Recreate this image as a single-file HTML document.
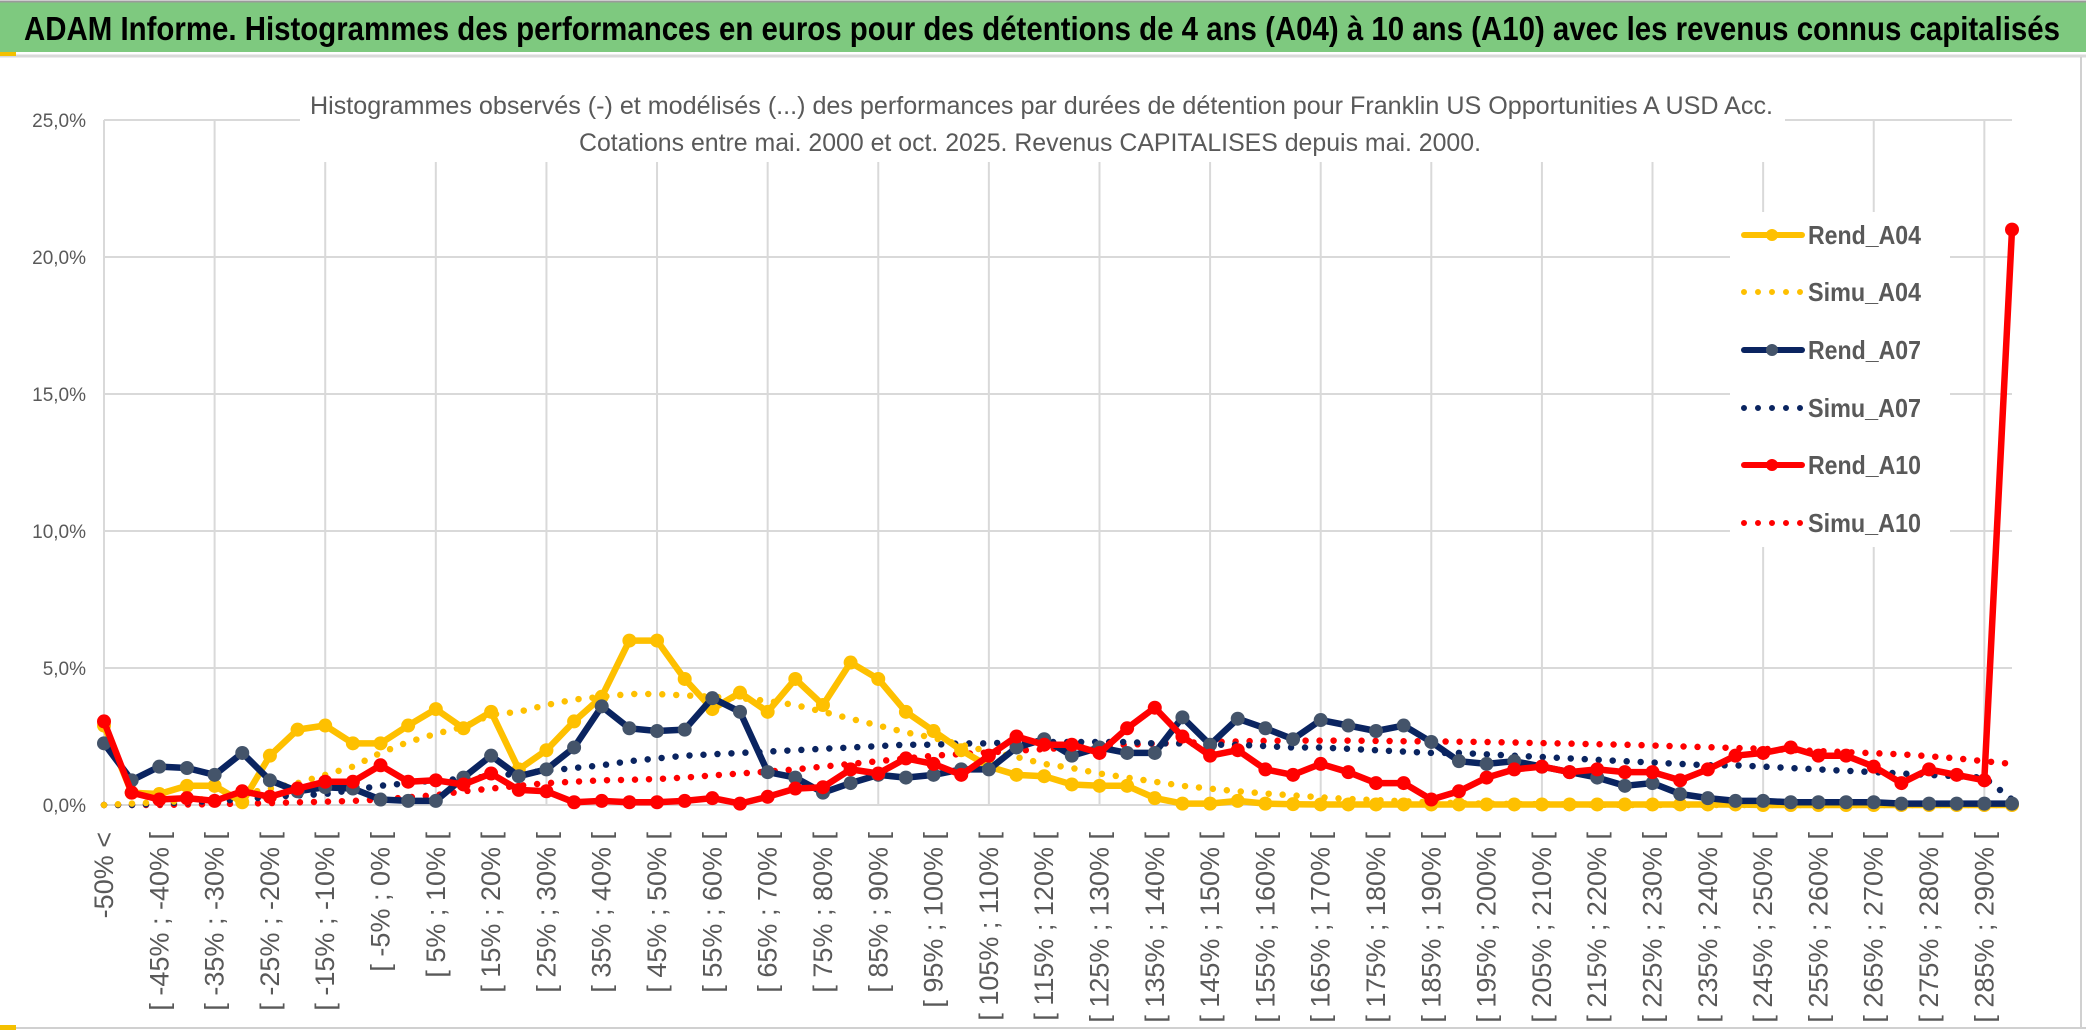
<!DOCTYPE html>
<html><head><meta charset="utf-8"><style>
html,body{margin:0;padding:0;background:#fff;}
svg{display:block;font-family:"Liberation Sans",sans-serif;}
</style></head><body>
<svg id="chart" width="2086" height="1033" viewBox="0 0 2086 1033" xmlns="http://www.w3.org/2000/svg">
<rect x="0" y="0" width="2086" height="1033" fill="#fff"/>
<rect x="0" y="2" width="2086" height="50" fill="#7EC97F"/>
<line x1="0" y1="1.5" x2="2086" y2="1.5" stroke="#9a9a9a" stroke-width="2"/>
<line x1="0" y1="56" x2="2086" y2="56" stroke="#d9d9d9" stroke-width="3"/>
<rect x="0" y="52" width="16" height="4" fill="#f4c000"/>
<text x="24" y="40" font-size="33" font-weight="bold" fill="#000" textLength="2036" lengthAdjust="spacingAndGlyphs">ADAM Informe. Histogrammes des performances en euros pour des détentions de 4 ans (A04) à 10 ans (A10) avec les revenus connus capitalisés</text>
<line x1="2081" y1="57" x2="2081" y2="1027" stroke="#d0d0d0" stroke-width="2"/>
<line x1="0" y1="1028" x2="2086" y2="1028" stroke="#d0d0d0" stroke-width="2"/>
<rect x="0" y="1025" width="16" height="5" fill="#f4c000"/>
<g id="grid"></g>
<rect x="300" y="80" width="1485" height="82" fill="#fff"/>
<text x="310" y="114" font-size="25" fill="#595959" textLength="1463" lengthAdjust="spacingAndGlyphs">Histogrammes observés (-) et modélisés (...) des performances par durées de détention pour Franklin US Opportunities A USD Acc.</text>
<text x="579" y="151" font-size="25" fill="#595959" textLength="902" lengthAdjust="spacingAndGlyphs">Cotations entre mai. 2000 et oct. 2025. Revenus CAPITALISES depuis mai. 2000.</text>
<g id="yaxis"></g>
<g id="xaxis"></g>
<g id="series"></g>
<g id="legend"></g>
</svg>
<script>
const categoryCount = 70;
const yTicks = [0, 5, 10, 15, 20, 25];
const yTickLabels = ["0,0%", "5,0%", "10,0%", "15,0%", "20,0%", "25,0%"];
const categories = (function(){const a=["-50% <"];for(let k=1;k<70;k++){const lo=-50+5*(k-1);a.push("[ "+lo+"% ; "+(lo+5)+"% [");}return a;})();
const rendA04 = [2.9,0.45,0.4,0.7,0.7,0.1,1.8,2.75,2.9,2.25,2.25,2.9,3.5,2.8,3.4,1.3,2.0,3.05,3.95,6.0,6.0,4.6,3.5,4.1,3.4,4.6,3.65,5.2,4.6,3.4,2.7,2.0,1.4,1.1,1.05,0.75,0.7,0.7,0.25,0.05,0.05,0.15,0.05,0.03,0.02,0.02,0.02,0.02,0.02,0.02,0.02,0.02,0.02,0.02,0.02,0.02,0.02,0.02,0.02,0.02,0.0,0.0,0.0,0.0,0.0,0.0,0.0,0.0,0.0,0.0];
const simuA04 = [0,0.05,0.1,0.15,0.25,0.4,0.6,0.8,1.1,1.4,1.9,2.3,2.6,2.85,3.3,3.4,3.65,3.85,3.95,4.05,4.05,4.0,3.95,3.9,3.8,3.65,3.4,3.15,2.9,2.65,2.45,2.2,1.95,1.75,1.5,1.35,1.15,1.0,0.85,0.7,0.6,0.5,0.42,0.35,0.28,0.22,0.18,0.14,0.1,0.07,0.05,0.04,0.03,0.02,0.01,0,0,0,0,0,0,0,0,0,0,0,0,0,0,0];
const rendA07 = [2.25,0.9,1.4,1.35,1.1,1.9,0.9,0.5,0.65,0.6,0.2,0.15,0.15,1.0,1.8,1.05,1.3,2.1,3.6,2.8,2.7,2.75,3.9,3.4,1.2,1.0,0.45,0.8,1.1,1.0,1.1,1.3,1.3,2.1,2.4,1.8,2.1,1.9,1.9,3.2,2.2,3.15,2.8,2.4,3.1,2.9,2.7,2.9,2.3,1.6,1.5,1.6,1.4,1.2,1.0,0.7,0.8,0.4,0.25,0.15,0.15,0.1,0.1,0.1,0.1,0.05,0.05,0.05,0.05,0.05];
const simuA07 = [0,0,0.05,0.1,0.15,0.2,0.3,0.35,0.4,0.55,0.7,0.8,0.9,0.95,1.05,1.15,1.25,1.35,1.45,1.6,1.7,1.8,1.85,1.9,1.95,2.0,2.05,2.1,2.15,2.2,2.2,2.25,2.25,2.3,2.3,2.3,2.3,2.3,2.25,2.25,2.2,2.2,2.15,2.1,2.1,2.05,2.0,1.95,1.9,1.9,1.85,1.8,1.75,1.7,1.65,1.6,1.55,1.5,1.45,1.45,1.4,1.35,1.3,1.25,1.2,1.15,1.1,1.05,1.0,0.2];
const rendA10 = [3.05,0.45,0.2,0.25,0.15,0.5,0.3,0.6,0.85,0.85,1.45,0.85,0.9,0.75,1.15,0.55,0.5,0.1,0.15,0.1,0.1,0.15,0.25,0.05,0.3,0.6,0.65,1.3,1.15,1.7,1.5,1.1,1.8,2.5,2.2,2.2,1.9,2.8,3.55,2.5,1.8,2.0,1.3,1.1,1.5,1.2,0.8,0.8,0.2,0.5,1.0,1.3,1.4,1.2,1.3,1.2,1.2,0.9,1.3,1.8,1.9,2.1,1.8,1.8,1.4,0.8,1.3,1.1,0.9,21.0];
const simuA10 = [0,0,0,0.02,0.03,0.05,0.07,0.1,0.12,0.15,0.2,0.28,0.36,0.5,0.6,0.7,0.8,0.85,0.9,0.92,0.95,1.0,1.08,1.15,1.22,1.3,1.4,1.5,1.6,1.7,1.8,1.86,1.92,1.98,2.04,2.1,2.15,2.2,2.24,2.27,2.3,2.32,2.34,2.35,2.35,2.35,2.34,2.33,2.32,2.31,2.3,2.28,2.26,2.24,2.22,2.2,2.17,2.14,2.11,2.08,2.05,2.01,1.97,1.93,1.89,1.85,1.78,1.7,1.6,1.5];

const X0=104, X1=2012, Y0=805, Y25=120;
const xs=i=>X0+(X1-X0)*i/(categoryCount-1);
const ys=v=>Y0-(Y0-Y25)*v/25;
const NS="http://www.w3.org/2000/svg";
function mk(tag,attrs,parent){const e=document.createElementNS(NS,tag);for(const k in attrs)e.setAttribute(k,attrs[k]);parent.appendChild(e);return e;}
const grid=document.getElementById('grid');
for(const t of yTicks){
  const l=mk('line',{x1:X0,x2:X1,y1:ys(t),y2:ys(t),stroke:'#d9d9d9','stroke-width':2},grid);
  
  
}
for(let i=0;i<categoryCount;i+=4){
  const l=mk('line',{x1:xs(i),x2:xs(i),y1:Y25,y2:Y0,stroke:'#d9d9d9','stroke-width':2},grid);
  
  
}
const yax=document.getElementById('yaxis');
yTicks.forEach((t,k)=>{
  const e=mk('text',{x:86,y:ys(t)+7,'text-anchor':'end','font-size':19,fill:'#595959'},yax);
  e.textContent=yTickLabels[k];
  
  
});
const xax=document.getElementById('xaxis');
for(let i=0;i<categoryCount;i+=2){
  const x=xs(i)+9,y=832;
  const e=mk('text',{x:x,y:y,'text-anchor':'end','font-size':27,fill:'#595959',transform:`rotate(-90 ${x} ${y})`},xax);
  e.textContent=categories[i];
  
  
}
const ser=document.getElementById('series');
function pts(arr){return arr.map((v,i)=>xs(i).toFixed(1)+','+ys(v).toFixed(1)).join(' ');}
function dotted(arr,color,name){
  const p=mk('polyline',{points:pts(arr),fill:'none',stroke:color,'stroke-width':6.5,'stroke-linecap':'round','stroke-dasharray':'0 14'},ser);
  
  
}
function solid(arr,color,mcolor,name){
  const g=mk('g',{},ser);
  
  
  mk('polyline',{points:pts(arr),fill:'none',stroke:color,'stroke-width':6.5,'stroke-linejoin':'round'},g);
  arr.forEach((v,i)=>{
    const c=mk('circle',{cx:xs(i),cy:ys(v),r:7,fill:mcolor},g);
    
    
  });
}
dotted(simuA10,'#ff0000','simu-a10-line');
dotted(simuA07,'#0a2460','simu-a07-line');
dotted(simuA04,'#fec000','simu-a04-line');
solid(rendA04,'#fec000','#fec000','rend-a04-line');
solid(rendA07,'#0a2460','#44546a','rend-a07-line');
solid(rendA10,'#ff0000','#ff0000','rend-a10-line');
const leg=document.getElementById('legend');
mk('rect',{x:1730,y:212,width:220,height:335,fill:'#fff'},leg);
const legendNames=["Rend_A04","Simu_A04","Rend_A07","Simu_A07","Rend_A10","Simu_A10"];
const legendColors=['#fec000','#fec000','#0a2460','#0a2460','#ff0000','#ff0000'];
const legendMarker=['#fec000',null,'#44546a',null,'#ff0000',null];
const legY=[235,292,350,408,465,523];
legendNames.forEach((n,k)=>{
  const g=mk('g',{},leg);
  
  
  const y=legY[k];
  if(legendMarker[k]){
    mk('line',{x1:1744,x2:1802,y1:y,y2:y,stroke:legendColors[k],'stroke-width':6,'stroke-linecap':'round'},g);
    mk('circle',{cx:1772,cy:y,r:6,fill:legendMarker[k]},g);
  } else {
    mk('line',{x1:1744,x2:1802,y1:y,y2:y,stroke:legendColors[k],'stroke-width':6,'stroke-linecap':'round','stroke-dasharray':'0 14'},g);
  }
  const t=mk('text',{x:1808,y:y+9,'font-size':26,fill:'#595959','font-weight':'bold',textLength:113,lengthAdjust:'spacingAndGlyphs'},g);
  t.textContent=n;
});
</script>
</body></html>
